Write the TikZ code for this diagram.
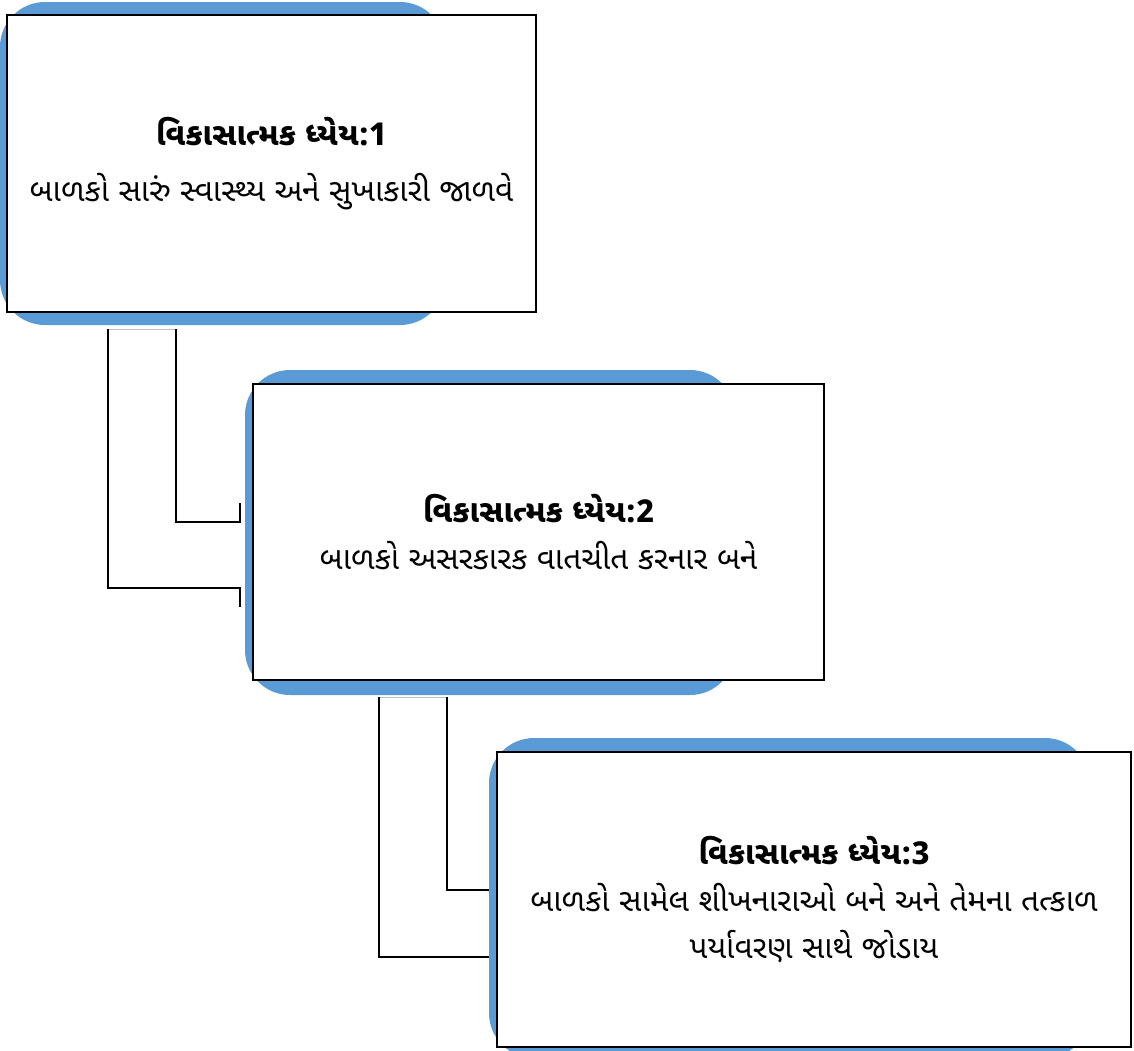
\documentclass[tikz,border=0pt]{standalone}
\usepackage{fontspec}
\newfontfamily\gujfont[Script=Gujarati]{Noto Sans Gujarati UI}
\usetikzlibrary{positioning}
\definecolor{goalblue}{HTML}{5B9BD5}
\tikzset{
  back/.style={fill=goalblue, rounded corners=45pt, inner sep=0pt},
  goal/.style={draw=black, line width=2.8pt, fill=white, inner sep=0pt,
    align=center, font=\gujfont\fontsize{31.5}{47}\selectfont},
  link/.style={draw=black, line width=2.8pt},
  faint/.style={draw=black!25, line width=0.8pt},
}
\begin{document}
\begin{tikzpicture}[x=1pt,y=-1pt]
\useasboundingbox (0,0) rectangle (1134,1050);

% elbow links
\coordinate (s1a) at (108,329);
\coordinate (s1b) at (176,329);
\coordinate (e1a) at (240,588);
\coordinate (e1b) at (240,522);
\draw[faint] (s1a) -- (s1b);
\draw[link] (s1b) |- (e1b) -- ++(0,-19);
\draw[link] (s1a) |- (e1a) -- ++(0,19);

\coordinate (s2a) at (379,697);
\coordinate (s2b) at (447,697);
\coordinate (e2a) at (492,957);
\coordinate (e2b) at (492,890);
\draw[faint] (s2a) -- (s2b);
\draw[link] (s2b) |- (e2b) -- ++(0,-19);
\draw[link] (s2a) |- (e2a) -- ++(0,19);

% blue backs
\node[back, minimum width=445pt, minimum height=323pt] (back1) at (222.5,163.5) {};
\node[back, minimum width=490pt, minimum height=325pt] (back2) at (490,532.5) {};
\node[back, minimum width=601pt, minimum height=320pt] (back3) at (789.5,898) {};

% goals
\node[goal, minimum width=529pt, minimum height=297pt] (goal1) at (271.5,163.5)
  {{\bfseries વિકાસાત્મક ધ્યેય:1}\\[9pt]બાળકો સારું સ્વાસ્થ્ય અને સુખાકારી જાળવે};
\node[goal, minimum width=571pt, minimum height=296pt] (goal2) at (538.5,532)
  {{\bfseries વિકાસાત્મક ધ્યેય:2}\\બાળકો અસરકારક વાતચીત કરનાર બને};
\node[goal, minimum width=634pt, minimum height=295pt] (goal3) at (814,899.5)
  {{\bfseries વિકાસાત્મક ધ્યેય:3}\\બાળકો સામેલ શીખનારાઓ બને અને તેમના તત્કાળ\\પર્યાવરણ સાથે જોડાય};
\end{tikzpicture}
\end{document}
